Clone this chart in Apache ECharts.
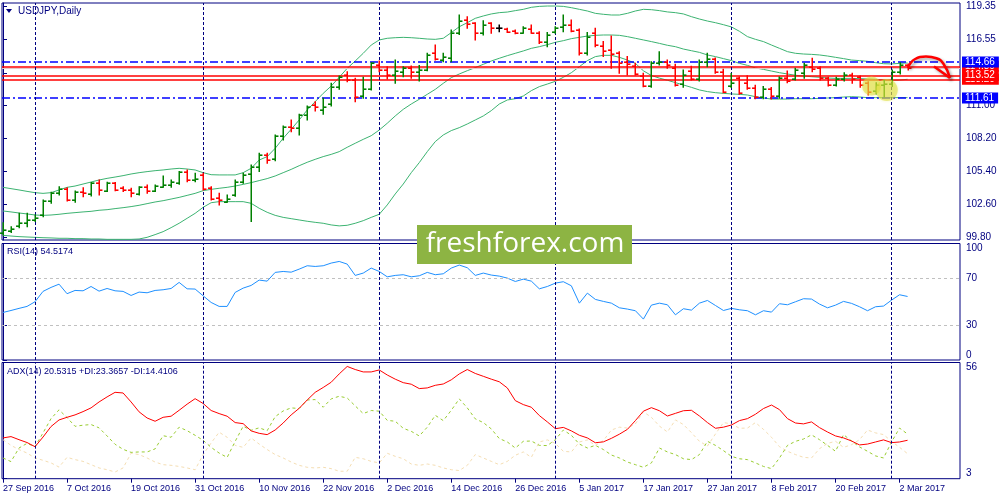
<!DOCTYPE html>
<html><head><meta charset="utf-8">
<script src="https://cdn.jsdelivr.net/npm/echarts@6/dist/echarts.min.js"></script>
<style>html,body{margin:0;padding:0;background:#fff}#c{width:1000px;height:500px}</style>
</head><body><div id="c"></div>
<script>
// ---------- data (daily bars, index 0 = 27 Sep 2016 ... 113 = 3 Mar 2017) ----------
const open = [100.20,100.40,100.75,101.07,101.30,101.72,102.91,103.61,103.89,102.99,
103.70,103.47,104.46,103.78,104.40,104.00,103.84,103.47,104.12,103.78,
104.12,104.26,104.46,105.33,104.68,105.11,103.98,103.20,102.85,103.40,
104.54,105.20,105.81,106.80,106.50,108.41,109.19,109.05,110.18,111.00,
110.60,111.10,112.52,113.57,113.14,111.75,112.35,114.41,114.00,113.60,
113.85,114.13,113.80,113.99,115.40,114.83,114.98,117.09,118.22,117.94,
117.09,117.94,117.51,117.43,117.32,117.15,117.43,117.15,116.39,117.20,
117.65,117.80,117.37,115.40,117.09,116.05,115.70,115.40,114.69,114.33,
113.48,112.63,114.55,114.69,114.13,112.80,113.90,113.20,114.70,114.90,
113.80,112.60,113.30,112.90,112.50,111.70,112.35,111.75,113.35,113.20,
113.70,114.27,114.13,113.30,112.75,113.20,113.57,113.37,112.86,112.20,
112.70,112.80,113.80,114.40];
const high = [101.07,100.73,101.86,101.86,101.72,102.99,103.65,104.12,104.03,103.75,
104.03,104.46,104.68,104.50,104.46,104.12,103.98,104.12,104.26,104.26,
105.02,104.68,105.39,105.53,105.25,105.25,104.12,103.55,103.41,104.68,
105.25,105.95,106.94,106.94,108.49,109.25,109.76,110.24,110.95,111.31,
111.59,112.86,113.48,113.85,113.30,113.37,114.61,114.75,114.27,114.83,
114.27,114.33,114.36,115.40,116.10,115.40,117.37,118.64,118.50,117.99,
118.16,117.99,117.80,117.51,117.37,117.65,117.80,117.23,117.15,117.65,
118.64,118.22,117.45,117.15,117.51,116.39,116.86,115.54,115.12,114.55,
113.71,114.69,115.54,114.83,114.47,113.99,114.30,114.83,115.40,115.00,
114.05,113.70,113.40,113.50,112.70,112.60,112.50,113.40,113.90,114.13,
114.55,114.98,114.27,113.37,113.37,113.76,113.71,113.48,113.00,112.90,
113.10,113.99,114.61,114.50];
const low = [100.03,100.25,100.65,100.73,101.16,101.58,102.71,103.41,102.91,102.79,
103.27,103.33,103.41,103.70,103.78,103.70,103.27,103.41,103.55,103.70,
104.06,104.06,104.32,104.54,104.54,103.84,102.99,102.57,102.79,103.30,
104.40,101.16,105.40,106.09,106.30,108.07,108.77,108.49,109.76,110.52,
110.24,110.95,112.35,113.00,111.31,111.59,112.30,113.85,113.23,112.86,
113.42,113.28,113.06,113.93,114.83,114.69,114.69,117.00,117.51,116.53,
116.95,117.09,117.23,117.17,117.05,117.09,117.09,116.24,115.96,117.09,
117.23,117.23,115.26,115.26,115.96,115.12,114.13,113.71,113.57,113.57,
112.58,112.52,114.41,114.13,112.63,112.52,113.14,113.06,114.27,113.71,
112.07,112.50,111.93,112.35,111.55,111.55,111.53,111.60,112.90,113.15,
113.30,113.85,113.14,112.63,112.63,113.06,112.86,112.52,111.87,111.95,
111.70,112.60,113.65,113.99];
const close = [100.45,100.55,101.07,101.30,101.44,102.91,103.61,103.89,102.99,103.70,
103.55,104.40,103.84,104.46,103.84,103.84,103.55,104.06,103.78,104.18,
104.26,104.54,105.33,104.68,104.80,103.89,103.05,102.99,103.10,104.54,
105.11,105.81,106.80,106.37,108.41,109.19,109.05,110.18,110.89,110.89,
110.89,112.52,113.37,113.14,111.73,112.35,114.55,113.99,113.55,113.90,
114.13,113.85,114.00,115.26,114.89,115.12,117.09,118.16,117.88,117.15,
117.80,117.51,117.51,117.23,117.09,117.51,117.15,116.39,116.95,117.51,
117.80,117.32,115.40,116.81,116.10,115.60,115.35,114.55,114.50,113.65,
112.63,114.55,114.69,114.41,112.72,113.60,113.20,114.70,114.90,113.85,
112.16,112.90,112.00,112.50,111.70,112.35,111.75,113.28,113.05,113.99,
114.41,114.05,113.28,112.75,113.20,113.57,113.20,112.72,112.16,112.70,
112.80,113.80,114.41,114.15];

const bbUpper = [104.06,103.95,103.84,103.72,103.61,103.55,103.61,103.84,104.06,104.17,
104.34,104.51,104.68,104.82,104.93,105.05,105.19,105.30,105.39,105.47,
105.53,105.61,105.67,105.61,105.53,105.30,105.13,105.11,105.11,105.11,
105.30,105.67,106.37,106.66,107.36,108.21,108.97,109.76,110.60,111.31,
112.01,112.63,113.37,114.13,114.75,115.40,116.10,116.53,116.67,116.72,
116.75,116.72,116.67,116.61,116.58,116.67,117.15,117.65,117.99,118.36,
118.56,118.73,118.84,118.89,119.01,119.12,119.29,119.37,119.40,119.40,
119.37,119.26,119.12,118.98,118.78,118.70,118.64,118.64,118.78,118.98,
119.12,119.09,119.01,118.90,118.84,118.73,118.50,118.30,118.13,117.99,
117.82,117.63,117.26,116.81,116.58,116.39,116.10,115.82,115.54,115.40,
115.34,115.31,115.26,115.17,115.06,114.95,114.83,114.78,114.72,114.61,
114.52,114.50,114.55,114.58];
const bbMiddle = [102.06,101.98,101.89,101.81,101.72,101.69,101.72,101.78,101.86,101.92,
101.98,102.03,102.12,102.17,102.26,102.34,102.43,102.54,102.68,102.82,
102.93,103.07,103.21,103.38,103.55,103.78,103.89,103.98,104.06,104.17,
104.31,104.46,104.63,104.80,105.02,105.30,105.58,105.89,106.18,106.43,
106.66,106.85,107.08,107.45,107.79,108.12,108.43,108.91,109.48,110.10,
110.66,111.11,111.51,111.93,112.35,112.86,113.34,113.65,113.93,114.19,
114.47,114.75,114.98,115.20,115.40,115.60,115.82,115.96,116.13,116.33,
116.47,116.64,116.75,116.86,116.92,116.95,116.95,116.92,116.81,116.67,
116.53,116.39,116.24,116.08,115.96,115.76,115.62,115.48,115.26,115.12,
114.95,114.78,114.55,114.38,114.16,114.04,113.90,113.76,113.65,113.54,
113.48,113.42,113.37,113.31,113.28,113.28,113.28,113.26,113.23,113.20,
113.14,113.11,113.14,113.20];
const bbLower = [100.00,99.94,99.89,99.86,99.83,99.80,99.78,99.75,99.75,99.72,
99.72,99.69,99.69,99.66,99.66,99.66,99.66,99.69,99.83,100.06,
100.31,100.65,101.02,101.44,101.86,102.37,102.76,102.85,102.85,102.85,
102.85,102.71,102.29,101.95,101.69,101.52,101.41,101.30,101.19,101.10,
101.02,100.88,100.80,100.85,101.02,101.24,101.52,101.78,102.57,103.50,
104.34,105.30,106.15,107.08,107.93,108.49,108.86,109.11,109.42,109.76,
110.10,110.55,111.11,111.45,111.56,111.79,112.24,112.58,112.80,113.03,
113.37,113.76,114.27,114.78,115.12,115.23,115.23,115.06,114.83,114.55,
113.92,113.52,113.30,113.12,112.92,112.72,112.52,112.30,112.16,112.07,
112.01,111.96,111.93,111.87,111.73,111.62,111.53,111.53,111.53,111.56,
111.56,111.56,111.59,111.62,111.65,111.70,111.73,111.70,111.65,111.65,
111.65,111.65,111.65,111.65];

const rsi = [40.8,42.5,44.3,46.0,50.0,58.9,62.3,65.1,56.9,59.7,
59.4,63.1,59.1,61.4,59.4,58.9,55.4,58.3,57.7,59.7,
60.3,61.4,66.6,61.1,60.9,55.1,49.4,46.0,46.0,58.0,
61.7,64.0,68.6,67.7,75.2,76.0,75.4,78.0,80.9,80.3,
80.9,83.2,84.6,82.3,72.6,74.6,78.9,76.0,71.4,72.6,
73.2,71.4,72.3,75.2,73.2,74.0,78.9,81.5,79.2,72.6,
74.6,72.9,72.0,70.3,67.4,69.4,67.7,61.1,63.1,66.0,
67.2,63.7,48.8,57.4,52.0,50.3,48.8,44.8,43.7,42.3,
35.1,47.1,48.8,47.4,38.8,44.0,42.8,48.8,51.1,46.8,
42.5,44.3,43.1,42.3,38.8,42.3,41.1,48.3,47.4,50.0,
52.6,52.3,48.0,44.8,47.1,50.3,48.6,45.7,42.3,45.7,
46.3,51.4,56.0,54.52];

const adx = [21.6,22.2,20.8,19.5,17.6,22.0,26.8,29.8,31.0,32.1,
33.6,35.3,38.0,40.3,42.4,42.1,38.0,33.5,30.7,29.2,
31.0,31.5,34.2,37.0,39.5,37.3,34.1,32.7,31.5,28.6,
28.1,24.8,23.7,23.1,25.2,28.4,32.1,35.1,38.9,42.4,
44.6,47.0,50.8,54.2,52.8,51.7,51.7,52.6,50.3,48.4,
46.8,46.1,44.1,44.4,45.6,46.2,48.1,50.8,52.8,51.0,
49.7,48.4,47.2,44.4,38.6,36.8,35.6,31.8,28.9,25.8,
26.4,24.8,22.8,21.6,19.4,19.8,21.4,23.3,25.5,29.5,
33.8,35.4,34.0,31.6,32.8,34.0,34.2,31.6,28.6,26.0,
26.5,27.5,29.5,30.4,32.4,35.0,36.6,34.5,30.4,28.4,
28.0,28.9,26.3,24.3,22.5,21.6,20.2,18.4,18.8,19.75,
20.7,19.45,19.75,20.53];
const plusDI = [12.45,10.8,17.0,19.1,17.6,23.9,30.4,34.4,30.9,26.9,
27.4,27.7,26.2,22.5,18.7,16.4,15.0,15.2,15.2,16.6,
22.6,21.9,26.5,24.9,22.8,20.5,17.3,14.7,12.7,20.0,
26.9,25.1,26.2,24.9,31.3,33.9,35.3,35.0,38.9,39.1,
35.6,39.4,40.6,39.8,36.2,32.7,34.1,33.8,29.6,29.2,
26.0,24.6,22.5,26.5,31.9,29.5,34.2,39.4,35.3,30.3,
28.6,25.7,21.3,19.75,17.0,20.05,20.2,18.2,18.1,20.8,
25.2,22.8,18.8,17.0,18.2,16.3,13.8,12.45,10.6,9.4,
8.2,10.2,17.0,15.2,14.0,12.1,11.7,14.0,20.05,18.2,
15.8,13.2,12.1,11.7,10.2,8.6,7.6,12.45,18.2,20.05,
21.1,23.0,20.8,18.2,15.5,23.1,20.2,17.5,15.5,13.4,
12.45,19.75,26.1,23.37];
const minusDI = [20.8,18.2,16.3,14.7,12.45,11.4,10.2,8.3,12.75,11.7,
10.9,9.4,7.9,7.1,6.05,7.9,14.6,14.0,12.45,10.6,
9.4,9.1,8.6,7.9,7.1,14.0,19.3,24.2,21.9,18.2,
17.3,21.6,18.8,16.3,14.0,12.45,10.6,9.1,8.2,7.9,
8.2,7.6,6.4,6.4,12.75,12.1,10.9,10.2,14.6,13.2,
12.1,9.7,9.1,9.7,9.1,7.9,7.1,6.7,9.1,14.0,
12.45,10.9,9.4,10.9,13.7,15.2,12.75,19.75,20.7,19.1,
15.5,15.2,19.75,20.7,18.2,20.4,25.2,26.5,26.1,28.0,
33.5,31.0,27.0,24.3,29.8,27.7,24.0,20.05,17.9,23.4,
28.6,28.0,26.0,26.1,28.6,25.5,21.9,17.6,15.5,14.0,
12.75,12.45,16.7,19.1,20.05,17.3,18.5,20.8,25.2,23.9,
23.1,20.05,17.3,14.41];

// axis ticks / labels
const tickIdx = [0,8,16,24,32,40,48,56,64,72,80,88,96,104,112];
const tickLabels = ['27 Sep 2016','7 Oct 2016','19 Oct 2016','31 Oct 2016','10 Nov 2016','22 Nov 2016','2 Dec 2016','14 Dec 2016','26 Dec 2016','5 Jan 2017','17 Jan 2017','27 Jan 2017','8 Feb 2017','20 Feb 2017','2 Mar 2017'];
const monthStarts = [4,25,47,69,91,111];
const priceTicks = [99.80,102.60,105.40,108.20,111.00,113.75,116.55,119.35];
const rsiTicks = [0,30,70,100];
const rsiLevels = [70,30];
const adxTicks = [3,56];

// horizontal levels drawn on the price chart
const blueLevels = [114.66,111.61];
const redLevels = [114.30,113.20,113.52];
const paleLevels = [114.16];

// annotations (bar index, price)
const highlightMarks = [[108.5,112.63],[110.4,112.30]];
const arrowCurve = [[113.05,114.16],[113.9,114.9],[115.3,115.12],[116.6,114.98],[117.5,114.5],[118.3,113.32]];
const arrowBarb = [[116.3,114.28],[118.3,113.32]];

// ---------- chart ----------
const NAVY='#000080', UP='#008000', DOWN='#FF0000', DOJI='#000000', BB='#3CB371';
const FONT='Liberation Sans';
const X_MIN=-0.125, X_MAX=119.55;
const pair = arr => arr.map((v,i)=>[i,v]);
const ohlcRows = close.map((c,i)=>[i, open[i], high[i], low[i], c]);

const grids = [
  {left:2, right:40, top:3, height:237},
  {left:2, right:40, top:243.5, height:116.5},
  {left:2, right:40, top:362.5, height:116.2}
].map(g=>Object.assign(g,{show:true, borderColor:NAVY, borderWidth:1, backgroundColor:'transparent'}));

function xAxisFor(g, show){
  return {type:'value', gridIndex:g, min:X_MIN, max:X_MAX,
    axisLine:{show:false}, splitLine:{show:false},
    axisTick:{show:show, customValues:tickIdx, length:4, lineStyle:{color:NAVY}},
    axisLabel:{show:show, customValues:tickIdx, align:'left', margin:5, color:NAVY, fontSize:9, fontFamily:FONT,
      formatter:v=>{const k=tickIdx.indexOf(Math.round(v)); return k>=0?tickLabels[k]:'';}}
  };
}
function yAxisFor(g, min, max, ticks, fmt, edgeAlign){
  const lab = {customValues:ticks, color:NAVY, fontSize:10, fontFamily:FONT, margin:6, formatter:fmt};
  if (edgeAlign){ lab.verticalAlignMinLabel='bottom'; lab.verticalAlignMaxLabel='top'; }
  return {type:'value', gridIndex:g, position:'right', min:min, max:max,
    axisLine:{show:true, lineStyle:{color:NAVY}},
    axisTick:{show:true, customValues:ticks, length:4, lineStyle:{color:NAVY}},
    axisLabel:lab, splitLine:{show:false}};
}

const sepMarkLine = {silent:true, symbol:['none','none'], label:{show:false}, animation:false,
  lineStyle:{color:NAVY, type:[3,2], width:1}, data: monthStarts.map(v=>({xAxis:v}))};

const levelData = [];
paleLevels.forEach(v=>levelData.push({yAxis:v, lineStyle:{color:'#E6C8C8', type:'solid', width:1}, label:{show:false}}));
redLevels.forEach(v=>levelData.push({yAxis:v, lineStyle:{color:'#FF0000', type:'solid', width:1.5},
  label:{show:true, position:'end', distance:2, formatter:v.toFixed(2), color:'#fff', backgroundColor:'#FF0000',
    padding:[1,4,0,3], fontSize:10, fontFamily:FONT}}));
blueLevels.forEach(v=>levelData.push({yAxis:v, lineStyle:{color:'#0000FF', type:[8,3,2,3], width:1.5},
  label:{show:true, position:'end', distance:2, formatter:v.toFixed(2), color:'#fff', backgroundColor:'#0000FF',
    padding:[1,4,0,3], fontSize:10, fontFamily:FONT}}));

const bandLine = (name, arr, extra) => Object.assign({name, type:'line', xAxisIndex:0, yAxisIndex:0, data:pair(arr),
  showSymbol:false, symbol:'none', silent:true, z:2, lineStyle:{color:BB, width:1}}, extra||{});

const option = {
  animation:false, backgroundColor:'#ffffff',
  textStyle:{fontFamily:FONT},
  grid:grids,
  xAxis:[xAxisFor(0,false), xAxisFor(1,false), xAxisFor(2,true)],
  yAxis:[
    yAxisFor(0, 99.605, 119.656, priceTicks, v=>v.toFixed(2), false),
    yAxisFor(1, 0, 100, rsiTicks, v=>String(v), true),
    yAxisFor(2, 3, 56, adxTicks, v=>String(v), true)
  ],
  series:[
    bandLine('BB upper', bbUpper),
    bandLine('BB middle', bbMiddle, {markLine:{silent:true, symbol:['none','none'], animation:false, data:levelData}}),
    bandLine('BB lower', bbLower, {markLine:sepMarkLine}),
    {name:'USDJPY', type:'custom', xAxisIndex:0, yAxisIndex:0, z:5, data:ohlcRows,
      encode:{x:0, y:[1,2,3,4]},
      renderItem:function(params, api){
        const i=api.value(0), o=api.value(1), h=api.value(2), l=api.value(3), c=api.value(4);
        const pH=api.coord([i,h]), pL=api.coord([i,l]), pO=api.coord([i,o]), pC=api.coord([i,c]);
        const col = c>o?UP:(c<o?DOWN:DOJI);
        const x = Math.round(pH[0]) + 0.25;
        const vst = {stroke:col, lineWidth:1.5};
        const tst = {stroke:col, lineWidth:1.6};
        const yo = Math.round(pO[1]) + 0.2, yc = Math.round(pC[1]) + 0.2;
        return {type:'group', children:[
          {type:'line', shape:{x1:x, y1:pH[1]-0.5, x2:x, y2:pL[1]+0.5}, style:vst},
          {type:'line', shape:{x1:x-3.2, y1:yo, x2:x, y2:yo}, style:tst},
          {type:'line', shape:{x1:x, y1:yc, x2:x+3.2, y2:yc}, style:tst}
        ]};
      }},
    {name:'marks', type:'scatter', xAxisIndex:0, yAxisIndex:0, z:6, silent:true,
      data:highlightMarks, symbolSize:(v,p)=>p.dataIndex===0?19:22,
      itemStyle:{color:'rgba(222,222,60,0.68)', shadowColor:'rgba(222,222,60,0.6)', shadowBlur:3}},
    {name:'arrow', type:'line', xAxisIndex:0, yAxisIndex:0, z:7, silent:true, smooth:0.5,
      data:arrowCurve, showSymbol:false, symbol:'none',
      lineStyle:{color:'#FF0000', width:2.5, shadowColor:'rgba(0,0,0,0.35)', shadowBlur:3, shadowOffsetX:2, shadowOffsetY:2}},
    {name:'arrowBarb', type:'line', xAxisIndex:0, yAxisIndex:0, z:7, silent:true,
      data:arrowBarb, showSymbol:false, symbol:'none',
      lineStyle:{color:'#FF0000', width:2.5, shadowColor:'rgba(0,0,0,0.35)', shadowBlur:3, shadowOffsetX:2, shadowOffsetY:2}},
    {name:'RSI', type:'line', xAxisIndex:1, yAxisIndex:1, data:pair(rsi), showSymbol:false, symbol:'none', silent:true,
      lineStyle:{color:'#1E90FF', width:1}, z:3,
      markLine:{silent:true, symbol:['none','none'], animation:false, label:{show:false},
        data: rsiLevels.map(v=>({yAxis:v, lineStyle:{color:'#C0C0C0', type:[3,3], width:1}}))
          .concat(monthStarts.map(v=>({xAxis:v, lineStyle:{color:NAVY, type:[3,2], width:1}})))}},
    {name:'-DI', type:'line', xAxisIndex:2, yAxisIndex:2, data:pair(minusDI), showSymbol:false, symbol:'none', silent:true,
      lineStyle:{color:'#F5DEB3', width:1, type:[3,3]}, z:2,
      markLine:sepMarkLine},
    {name:'+DI', type:'line', xAxisIndex:2, yAxisIndex:2, data:pair(plusDI), showSymbol:false, symbol:'none', silent:true,
      lineStyle:{color:'#9ACD32', width:1, type:[3,3]}, z:3},
    {name:'ADX', type:'line', xAxisIndex:2, yAxisIndex:2, data:pair(adx), showSymbol:false, symbol:'none', silent:true,
      lineStyle:{color:'#FF0000', width:1}, z:4}
  ],
  graphic:[
    {type:'polygon', z:100, shape:{points:[[6,9],[12,9],[9,13]]}, style:{fill:NAVY}},
    {type:'text', z:100, x:18, y:11, style:{text:'USDJPY,Daily', fill:NAVY, font:'10px "Liberation Sans"', verticalAlign:'middle'}},
    {type:'text', z:100, x:7, y:252, style:{text:'RSI(14) 54.5174', fill:NAVY, font:'9px "Liberation Sans"', verticalAlign:'middle'}},
    {type:'text', z:100, x:7, y:372, style:{text:'ADX(14) 20.5315 +DI:23.3657 -DI:14.4106', fill:NAVY, font:'9px "Liberation Sans"', verticalAlign:'middle'}},
    {type:'rect', z:100, shape:{x:417, y:225, width:215, height:39}, style:{fill:'#8DB443'}},
    {type:'text', z:101, x:525, y:244, style:{text:'freshforex.com', fill:'#ffffff', font:'28px "Open Sans"', align:'center', verticalAlign:'middle'}}
  ]
};
const chart = echarts.init(document.getElementById('c'), null, {renderer:'canvas'});
chart.setOption(option);
</script></body></html>
